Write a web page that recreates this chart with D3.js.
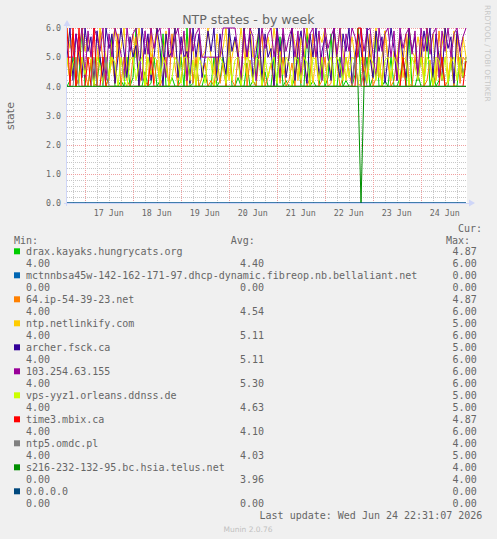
<!DOCTYPE html>
<html>
<head>
<meta charset="utf-8">
<script src="https://cdnjs.cloudflare.com/ajax/libs/d3/7.8.5/d3.min.js"></script>
<style>
body { margin: 0; background: #f0f0f0; }
svg { display: block; }
</style>
</head>
<body>
<svg id="chart"></svg>
<script>
// one sample every 90 minutes, starting Jun 16 15:09 UTC
var startTime = Date.UTC(2026, 5, 16, 15, 9);
var stepMinutes = 90;

var yTicks = [0, 1, 2, 3, 4, 5, 6];
var yTickLabels = ["0.0", "1.0", "2.0", "3.0", "4.0", "5.0", "6.0"];
var dayLabels = ["17 Jun", "18 Jun", "19 Jun", "20 Jun", "21 Jun", "22 Jun", "23 Jun", "24 Jun"];

var drax = [
  4,4.2,5,4,4.3,6,4,4,4.8,4, 4.1,5,4,4,4.4,5.7,4,4,4.2,4, 5,4,4.3,6,4,4,4.5,4,4.1,5,
  4,4.2,5.8,4,4,4.3,4,4,5,4, 6,4,4.1,4.9,4,4,4.4,4,4,5, 4,4.2,5,4,5.8,4,4,4.3,4,4,
  4.8,4,4.2,4,6,4,4.5,4,4,5, 4,5.7,4,4.2,4,4,4.3,5,4,4, 6,4,4.2,4,4,4.9,4,4.3,5.8,4,
  4,5,4,4.2,4,4,4.4,6,4,4, 5,4,4.3,5.9,4,4,4.2,4,5,4, 4,4.3,5,4,5.8,4,4,4.4,4,4,
  6,4,4.5,4,4.2,5,4,4,4.9,4, 4,5,4.3,4.87];
var mctnn = [
  0,0,0,0,0,0,0,0,0,0, 0,0,0,0,0,0,0,0,0,0, 0,0,0,0,0,0,0,0,0,0,
  0,0,0,0,0,0,0,0,0,0, 0,0,0,0,0,0,0,0,0,0, 0,0,0,0,0,0,0,0,0,0,
  0,0,0,0,0,0,0,0,0,0, 0,0,0,0,0,0,0,0,0,0, 0,0,0,0,0,0,0,0,0,0,
  0,0,0,0,0,0,0,0,0,0, 0,0,0,0,0,0,0,0,0,0, 0,0,0,0,0,0,0,0,0,0,
  0,0,0,0,0,0,0,0,0,0, 0,0,0,0];
var ip64 = [
  5,4.2,5.8,4,4.3,5,4.5,4,4.9,4.1, 4,5.9,4.8,4,4.3,5,4.1,5.8,4,5, 4.2,4,5,5.7,4,4.5,4.2,4,6,4.1,
  4.9,4,4.3,5,4,5.8,4.7,4,4.2,5, 4,5.9,4.1,5,4,4.3,4.8,4,4.2,4, 5,4.1,4.8,4,5.7,4.2,4,5,4.1,6,
  4,4.9,4.2,4,5,5.8,4,4.3,4.8,4, 5.9,4.1,5,4,4.2,4.8,4,5.7,4.1,5, 4,4.3,5.8,4.9,4,4.2,5,4,4.1,5.9,
  4.8,4,4.3,5,4.5,4,4.9,4.1,4,5, 4.2,5.8,4,4.3,5,4,5.9,4.8,4,4.2, 5,4,4.9,5.8,4.1,4,5,4.3,5.7,4,
  4.2,4.9,4,4.3,5.9,4.8,4,4.2,5,4, 5.8,4.1,5,4.87];
var netlinkify = [
  6,5.3,5.8,4.4,5,6,5.2,5.7,5,4.3, 5,6,5.6,5,4.2,5.5,6,5,5.3,6, 4.5,5,5.8,5,6,5.2,4,5.7,5,5.4,
  6,4.3,5,5.9,5,5.3,6,4.2,5,5.8, 5,6,5.4,4,5.7,5,5.2,6,5,4.4, 5.8,5,5.3,6,4.2,5,5.6,5,6,5.2,
  4.3,6,5,5.4,5.9,4,5,5.7,5,6, 5.2,5,5.8,4.3,5,6,5.4,4.2,5.7,5, 6,5.3,4.1,5,5.8,5.5,6,5,4.4,5.9,
  5,6,5.2,4.2,5,5.7,5,5.3,6,4.4, 5.8,5,5.3,6,4.3,5,5.9,5,4.2,5.2, 5,5.8,4.3,5,6,5.2,5,5.7,5,4.3,
  6,5.3,5.8,4.2,5,5.4,6,4.3,5,5.9, 5,4.4,5.7,5];
var archer = [
  5,6,4.2,5.8,5,4.3,6,5.2,5.7,4, 5.9,5,4.3,6,5.3,5.8,4.1,5,6,5.2, 4.3,5.7,5,5.4,4,6,5.1,5.8,4.2,5,
  6,5.3,4,5.8,5,5.2,6,4.3,5.7,5, 5.2,4.1,6,5,5.8,4.3,5,5.9,5.2,6, 4.2,5.8,5,4.4,6,5.2,5.7,5,4.2,6,
  5,5.8,4.3,5.1,6,4.2,5.8,5,5.3,4, 6,5.2,5.8,4.3,5,6,4.2,5.3,5.9,5, 4.1,5.8,5,6,4.3,5.2,5.7,5,4.2,6,
  5,4.3,5.8,5.2,6,4.1,5,5.8,5.3,4.2, 6,5,4.3,5.9,5.2,5.7,4.1,5,6,5.3, 4.2,5.8,5,4.3,6,5.2,5.7,4.2,5,5.9,
  5.2,6,4.3,5.8,5,4.2,6,5.3,5.7,4.1, 5.9,5.2,4.3,5];
var ip103 = [
  5,5,5,5.8,5.2,6,4.3,5.9,5,6, 5.7,5.2,6,4.2,5.8,5,6,5.6,5.1,4.3, 6,5.2,5.8,6,5,4.2,5.9,5.1,6,5.3,
  5.8,6,5.2,4.3,6,5,5.7,6,5.1,5.9, 4.2,6,5.2,5.8,6,5,5,5,5,5, 5,5,6,6,6,6,6,5.2,4.3,5.9,
  5,6,5.7,4.2,5.1,6,5.3,5.8,6,5, 5.9,4.3,6,5.2,5.7,6,5,5.9,4.2,6, 5.3,5.8,6,5,5.9,4.2,6,5.3,5.7,6,
  5.1,6,4.3,5.8,5.2,6,5.7,5,6,5.2, 5.9,6,5.1,4.3,6,5.2,5.8,6,5,5.9, 4.2,6,5.3,5.8,6,5.1,5.9,4.3,6,5.2,
  6,5.1,5.8,6,4.3,5.9,5.2,6,5,5.8, 6,5.2,5.7,6];
var vps = [
  5,4.2,4.8,5,4.1,5,4.4,5,4.9,4, 5,4.7,4.1,5,4.3,5,4.8,4,5,4.2, 4,4.9,5,4.2,4.8,5,4,5,4.4,5,
  4.9,4.1,5,4.7,4,4.3,5,4.8,4.1,5, 5,4.2,4.9,4,5,4.7,4.1,5,4.8,4, 4.3,5,4.8,4.1,5,4.2,4.9,5,4,4.7,
  5,4.8,4.1,5,4.9,4,5,4.3,4.8,5, 4.1,5,4.4,5,4.8,4,5,4.9,4.2,5, 4.8,4,5,4.9,4.2,5,4.1,4.8,5,4,
  5,4.8,4.2,5,4.3,5,4.9,4,5,4.7, 4.1,5,4.8,4.2,5,4,4.9,5,4.3,5, 4.8,4.1,5,4.9,4,5,4.7,4.2,5,4.1,
  5,4.8,4,5,4.9,4.2,5,4.1,4.8,5, 4.2,5,4.3,5];
var time3 = [
  6,4,6,4,6,4,4,5,4,6, 4,4,5,4,4,4,4,4,4,4, 4,4,4,4,4,4,4,4,5,4,
  4,4,4,4,4,4,4,4,4,4, 4,4,4,4,4,4,4,4,4,4, 4,4,4,4,4,4,4,4,4,4,
  4,4,4,4,4,4,4,4,4,4, 4,4,4,4,4,4,4,4,4,4, 4,4,4,4,4,4,4,4,4,4,
  4,4,4,4,4,4,4,6,6,4, 4,4,4,4,4,4,4,4,4,4, 4,4,5,4,4,4,4,4,4,4,
  4,4,4,4,4,5,4,4,4,4, 4,4,4,4.87];
var ntp5 = [
  4,4,4,5,4,4,4,4,4,5, 4,4,4,5,4,4,4,4,4,4, 4,4,4,4,4,4,4,4,4,4,
  4,4,4,4,4,4,4,4,4,4, 4,4,4,4,4,4,4,4,4,4, 4,4,4,4,4,4,4,4,4,4,
  4,4,4,4,4,4,4,4,4,4, 4,4,4,4,4,4,4,4,4,4, 4,4,4,4,4,4,4,4,4,4,
  4,4,4,4,4,4,5,4,4,4.5, 4,4,4,4,4,4,4,4,4,4, 4,4,4,4,4,4,4,4,4,4,
  4,4,4,4,4,4,4,4,4,4, 4,4,4,4];
var telus = [
  4,4,4,4,4,4,4,4,4,4, 4,4,4,4,4,4,4,4,4,4, 4,4,4,4,4,4,4,4,4,4,
  4,4,4,4,4,4,4,4,4,4, 4,4,4,4,4,4,4,4,4,4, 4,4,4,4,4,4,4,4,4,4,
  4,4,4,4,4,4,4,4,4,4, 4,4,4,4,4,4,4,4,4,4, 4,4,4,4,4,4,4,4,4,4,
  4,4,4,4,4,4,4,4,0,4, 4,4,4,4,4,4,4,4,4,4, 4,4,4,4,4,4,4,4,4,4,
  4,4,4,4,4,4,4,4,4,4, 4,4,4,4];
var zeroHost = [
  0,0,0,0,0,0,0,0,0,0, 0,0,0,0,0,0,0,0,0,0, 0,0,0,0,0,0,0,0,0,0,
  0,0,0,0,0,0,0,0,0,0, 0,0,0,0,0,0,0,0,0,0, 0,0,0,0,0,0,0,0,0,0,
  0,0,0,0,0,0,0,0,0,0, 0,0,0,0,0,0,0,0,0,0, 0,0,0,0,0,0,0,0,0,0,
  0,0,0,0,0,0,0,0,0,0, 0,0,0,0,0,0,0,0,0,0, 0,0,0,0,0,0,0,0,0,0,
  0,0,0,0,0,0,0,0,0,0, 0,0,0,0];

var names = ["drax.kayaks.hungrycats.org",
  "mctnnbsa45w-142-162-171-97.dhcp-dynamic.fibreop.nb.bellaliant.net",
  "64.ip-54-39-23.net", "ntp.netlinkify.com", "archer.fsck.ca", "103.254.63.155",
  "vps-yyz1.orleans.ddnss.de", "time3.mbix.ca", "ntp5.omdc.pl",
  "s216-232-132-95.bc.hsia.telus.net", "0.0.0.0"];
var colors = ["#00cc00", "#0066b3", "#ff8000", "#ffcc00", "#330099", "#990099",
  "#ccff00", "#ff0000", "#808080", "#008f00", "#00487d"];
var curVals = ["4.87", "0.00", "4.87", "5.00", "5.00", "6.00", "5.00", "4.87", "4.00", "4.00", "0.00"];
var minVals = ["4.00", "0.00", "4.00", "4.00", "4.00", "4.00", "4.00", "4.00", "4.00", "0.00", "0.00"];
var avgVals = ["4.40", "0.00", "4.54", "5.11", "5.11", "5.30", "4.63", "4.10", "4.03", "3.96", "0.00"];
var maxVals = ["6.00", "0.00", "6.00", "6.00", "6.00", "6.00", "5.00", "6.00", "5.00", "4.00", "0.00"];
var seriesValues = [drax, mctnn, ip64, netlinkify, archer, ip103, vps, time3, ntp5, telus, zeroHost];

var W = 497, H = 539;
var plot = {left: 67, right: 467, top: 28, bottom: 203};
var mono = "'DejaVu Sans Mono', monospace";
var sans = "'DejaVu Sans', sans-serif";
var fontColor = "#666666";
var axisColor = "#cfd6f8";

var svg = d3.select("#chart").attr("width", W).attr("height", H);
svg.append("rect").attr("width", W).attr("height", H).attr("fill", "#f0f0f0");
svg.append("rect").attr("x", plot.left).attr("y", plot.top)
  .attr("width", plot.right - plot.left).attr("height", plot.bottom - plot.top)
  .attr("fill", "#ffffff");

var xScale = d3.scaleUtc()
  .domain([new Date(startTime), new Date(startTime + 200 * 3600 * 1000)])
  .range([plot.left, plot.right]);
var yScale = d3.scaleLinear().domain([0, 6]).range([plot.bottom, plot.top]);

// grid: minor every 6 h / 0.2, major at midnight / 1.0
var grid = svg.append("g");
var hours = xScale.ticks(d3.utcHour.every(6));
grid.selectAll(".vminor").data(hours.filter(function(d) { return d.getUTCHours() !== 0; }))
  .enter().append("line")
  .attr("x1", function(d) { return Math.round(xScale(d)) + 0.5; })
  .attr("x2", function(d) { return Math.round(xScale(d)) + 0.5; })
  .attr("y1", plot.top).attr("y2", plot.bottom)
  .attr("stroke", "#c8c8c8").attr("stroke-dasharray", "1,1");
var minorY = d3.range(1, 30).map(function(i) { return i / 5; }).filter(function(v, i) { return (i + 1) % 5 !== 0; });
grid.selectAll(".hminor").data(minorY).enter().append("line")
  .attr("x1", plot.left).attr("x2", plot.right)
  .attr("y1", function(d) { return Math.round(yScale(d)) + 0.5; })
  .attr("y2", function(d) { return Math.round(yScale(d)) + 0.5; })
  .attr("stroke", "#c8c8c8").attr("stroke-dasharray", "1,1");
var days = xScale.ticks(d3.utcDay.every(1));
grid.selectAll(".vmajor").data(days).enter().append("line")
  .attr("x1", function(d) { return Math.round(xScale(d)) + 0.5; })
  .attr("x2", function(d) { return Math.round(xScale(d)) + 0.5; })
  .attr("y1", plot.top).attr("y2", plot.bottom)
  .attr("stroke", "#f0a0a0").attr("stroke-dasharray", "1,1");
grid.selectAll(".hmajor").data(yTicks.slice(1)).enter().append("line")
  .attr("x1", plot.left).attr("x2", plot.right)
  .attr("y1", function(d) { return Math.round(yScale(d)) + 0.5; })
  .attr("y2", function(d) { return Math.round(yScale(d)) + 0.5; })
  .attr("stroke", "#f0a0a0").attr("stroke-dasharray", "1,1");

// axis labels
svg.selectAll(".ylab").data(yTicks).enter().append("text")
  .attr("x", 61).attr("y", function(d) { return yScale(d) + 3.3; })
  .attr("text-anchor", "end").attr("font-family", mono).attr("font-size", 8.3)
  .attr("fill", fontColor).text(function(d, i) { return yTickLabels[i]; });
var noons = days.map(function(d) { return d3.utcHour.offset(d, 12); });
svg.selectAll(".xlab").data(noons).enter().append("text")
  .attr("x", function(d) { return xScale(d); }).attr("y", 215.5)
  .attr("text-anchor", "middle").attr("font-family", mono).attr("font-size", 8.3)
  .attr("fill", fontColor).text(function(d, i) { return dayLabels[i]; });

// data lines
svg.append("clipPath").attr("id", "clip").append("rect")
  .attr("x", plot.left).attr("y", plot.top - 1)
  .attr("width", plot.right - plot.left).attr("height", plot.bottom - plot.top + 2);
var lineGen = d3.line()
  .x(function(d, i) { return xScale(new Date(startTime + i * stepMinutes * 60000)); })
  .y(function(d) { return yScale(d); });
var lines = svg.append("g").attr("clip-path", "url(#clip)");
lines.selectAll("path").data(seriesValues).enter().append("path")
  .attr("d", lineGen).attr("fill", "none")
  .attr("stroke", function(d, i) { return colors[i]; })
  .attr("stroke-width", 1);

// axes with arrows
svg.append("line").attr("x1", plot.left - 0.5).attr("x2", plot.left - 0.5)
  .attr("y1", plot.bottom + 3).attr("y2", plot.top - 4).attr("stroke", axisColor);
svg.append("path").attr("d", "M63.5,26L70.5,26L67,20Z").attr("fill", axisColor);
svg.append("line").attr("x1", plot.left - 3).attr("x2", plot.right + 2)
  .attr("y1", plot.bottom + 0.5).attr("y2", plot.bottom + 0.5).attr("stroke", axisColor);
svg.append("path").attr("d", "M469,199.5L469,206.5L475,203Z").attr("fill", axisColor);

// titles
svg.append("text").attr("x", 248.3).attr("y", 23.5).attr("text-anchor", "middle")
  .attr("font-family", sans).attr("font-size", 12.6).attr("fill", fontColor)
  .text("NTP states - by week");
svg.append("text").attr("transform", "translate(13.5,116) rotate(-90)")
  .attr("text-anchor", "middle").attr("font-family", sans).attr("font-size", 11)
  .attr("fill", fontColor).text("state");
svg.append("text").attr("transform", "translate(485,5) rotate(90)")
  .attr("font-family", sans).attr("font-size", 7.5).attr("fill", "#c8c8c8")
  .text("RRDTOOL / TOBI OETIKER");

// legend
var legend = svg.append("g").attr("font-family", mono).attr("font-size", 10).attr("fill", fontColor);
legend.append("text").attr("x", 482).attr("y", 231.7).attr("text-anchor", "end").text("Cur:");
legend.append("text").attr("x", 14).attr("y", 243.5).text("Min:");
legend.append("text").attr("x", 230.7).attr("y", 243.5).text("Avg:");
legend.append("text").attr("x", 470).attr("y", 243.5).attr("text-anchor", "end").text("Max:");
var rows = legend.selectAll(".row").data(names).enter().append("g")
  .attr("transform", function(d, i) { return "translate(0," + (255.3 + 24 * i) + ")"; });
rows.append("rect").attr("x", 14).attr("y", -7).attr("width", 6).attr("height", 6)
  .attr("fill", function(d, i) { return colors[i]; });
rows.append("text").attr("x", 26).text(function(d) { return d; });
rows.append("text").attr("x", 476.7).attr("text-anchor", "end").text(function(d, i) { return curVals[i]; });
rows.append("text").attr("x", 26).attr("y", 12).text(function(d, i) { return minVals[i]; });
rows.append("text").attr("x", 240).attr("y", 12).text(function(d, i) { return avgVals[i]; });
rows.append("text").attr("x", 476.7).attr("y", 12).attr("text-anchor", "end").text(function(d, i) { return maxVals[i]; });
legend.append("text").attr("x", 482.3).attr("y", 519).attr("text-anchor", "end")
  .text("Last update: Wed Jun 24 22:31:07 2026");
svg.append("text").attr("x", 248).attr("y", 531.5).attr("text-anchor", "middle")
  .attr("font-family", sans).attr("font-size", 7.5).attr("fill", "#c0c0c0")
  .text("Munin 2.0.76");
</script>
</body>
</html>
